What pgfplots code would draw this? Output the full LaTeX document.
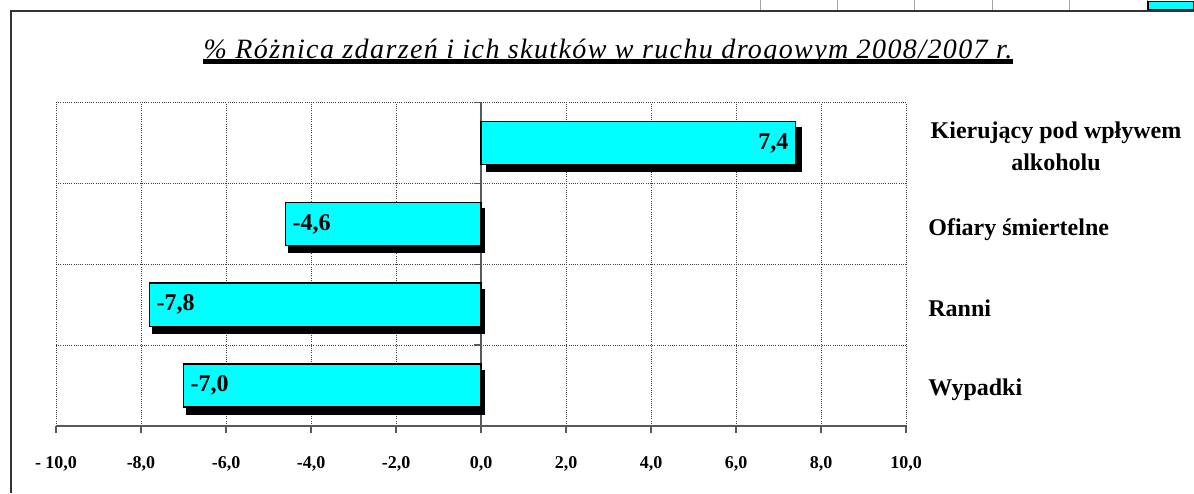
\documentclass[border=0pt]{standalone}
\usepackage{fontspec}
\setmainfont{Liberation Serif}
\usepackage{pgfplots}
\pgfplotsset{compat=1.18}
\usetikzlibrary{shadows}
\definecolor{barcyan}{RGB}{0,255,255}

\begin{document}
\begin{tikzpicture}[x=0.5pt,y=-0.5pt]
  \useasboundingbox (0,0) rectangle (1194,493);
  % frame of the chart area and the table cells above it
  \foreach \gx in {760,837,914,992,1069,1147}
    \draw[black!35, line width=0.5pt] (\gx,0) -- (\gx,11);
  \draw[black, line width=0.6pt, fill=barcyan] (1148,1.5) rectangle (1194,10);
  \draw[black!80, line width=0.75pt] (11,493) -- (11,11) -- (1194,11);

  \begin{axis}[
    at={(28pt,-213pt)}, anchor=south west,
    width=425pt, height=161.65pt, scale only axis,
    xmin=-10, xmax=10, ymin=-0.5, ymax=3.5,
    axis x line*=bottom, axis y line*=middle,
    axis line style={black!65, line width=0.75pt},
    xtick={-10,-8,...,10},
    xticklabels={{- 10,0},{-8,0},{-6,0},{-4,0},{-2,0},{0,0},{2,0},{4,0},{6,0},{8,0},{10,0}},
    ytick={-0.5,0.5,1.5,2.5,3.5}, yticklabels={},
    xmajorgrids, ymajorgrids,
    major grid style={black!75, line width=0.5pt, dash pattern=on 0.5pt off 0.6pt},
    tick style={black!65, line width=0.75pt},
    xtick align=outside, major tick length=3.5pt,
    ytick align=outside,
    xticklabel style={font=\bfseries\fontsize{9}{10}\selectfont, yshift=-8pt},
  ]
    % bars
    \addplot[xbar, bar width=0.535, bar shift=0pt, fill=barcyan, draw=black, line width=0.75pt,
      drop shadow={shadow xshift=2.75pt, shadow yshift=-3.3pt, opacity=1, fill=black}]
      coordinates {(7.4,3)};
    \addplot[xbar, bar width=0.535, bar shift=0pt, fill=barcyan, draw=black, line width=0.75pt,
      drop shadow={shadow xshift=1.6pt, shadow yshift=-3.3pt, opacity=1, fill=black}]
      coordinates {(-7.0,0) (-7.8,1) (-4.6,2)};
    % value labels, inside the bar ends
    \addplot[draw=none, mark=none, point meta=explicit symbolic, nodes near coords,
      every node near coord/.append style={anchor=east, text=black, font=\bfseries\fontsize{12}{14}\selectfont}]
      coordinates {(7.4,3) [7,4]};
    \addplot[draw=none, mark=none, point meta=explicit symbolic, nodes near coords,
      every node near coord/.append style={anchor=west, text=black, font=\bfseries\fontsize{12}{14}\selectfont}]
      coordinates {(-7.0,0) [-7,0] (-7.8,1) [-7,8] (-4.6,2) [-4,6]};
  \end{axis}

  % title
  \node[anchor=base, inner sep=0pt, font=\itshape\fontsize{14}{16}\selectfont\addfontfeature{LetterSpace=5}] (t) at (608,58)
    {\% Różnica zdarzeń i ich skutków w ruchu drogowym 2008/2007 r.};
  \draw[line width=2.4pt] ([yshift=-1.9pt]t.base west) -- ([yshift=-1.9pt]t.base east);

  % category names
  \begin{scope}[every node/.style={inner sep=0pt, font=\bfseries\fontsize{12}{14}\selectfont}]
    \node[anchor=base] at (1056,138) {Kierujący pod wpływem};
    \node[anchor=base] at (1056,170) {alkoholu};
    \node[anchor=base west] at (928,235) {Ofiary śmiertelne};
    \node[anchor=base west] at (928,316) {Ranni};
    \node[anchor=base west] at (928,395) {Wypadki};
  \end{scope}
\end{tikzpicture}
\end{document}
